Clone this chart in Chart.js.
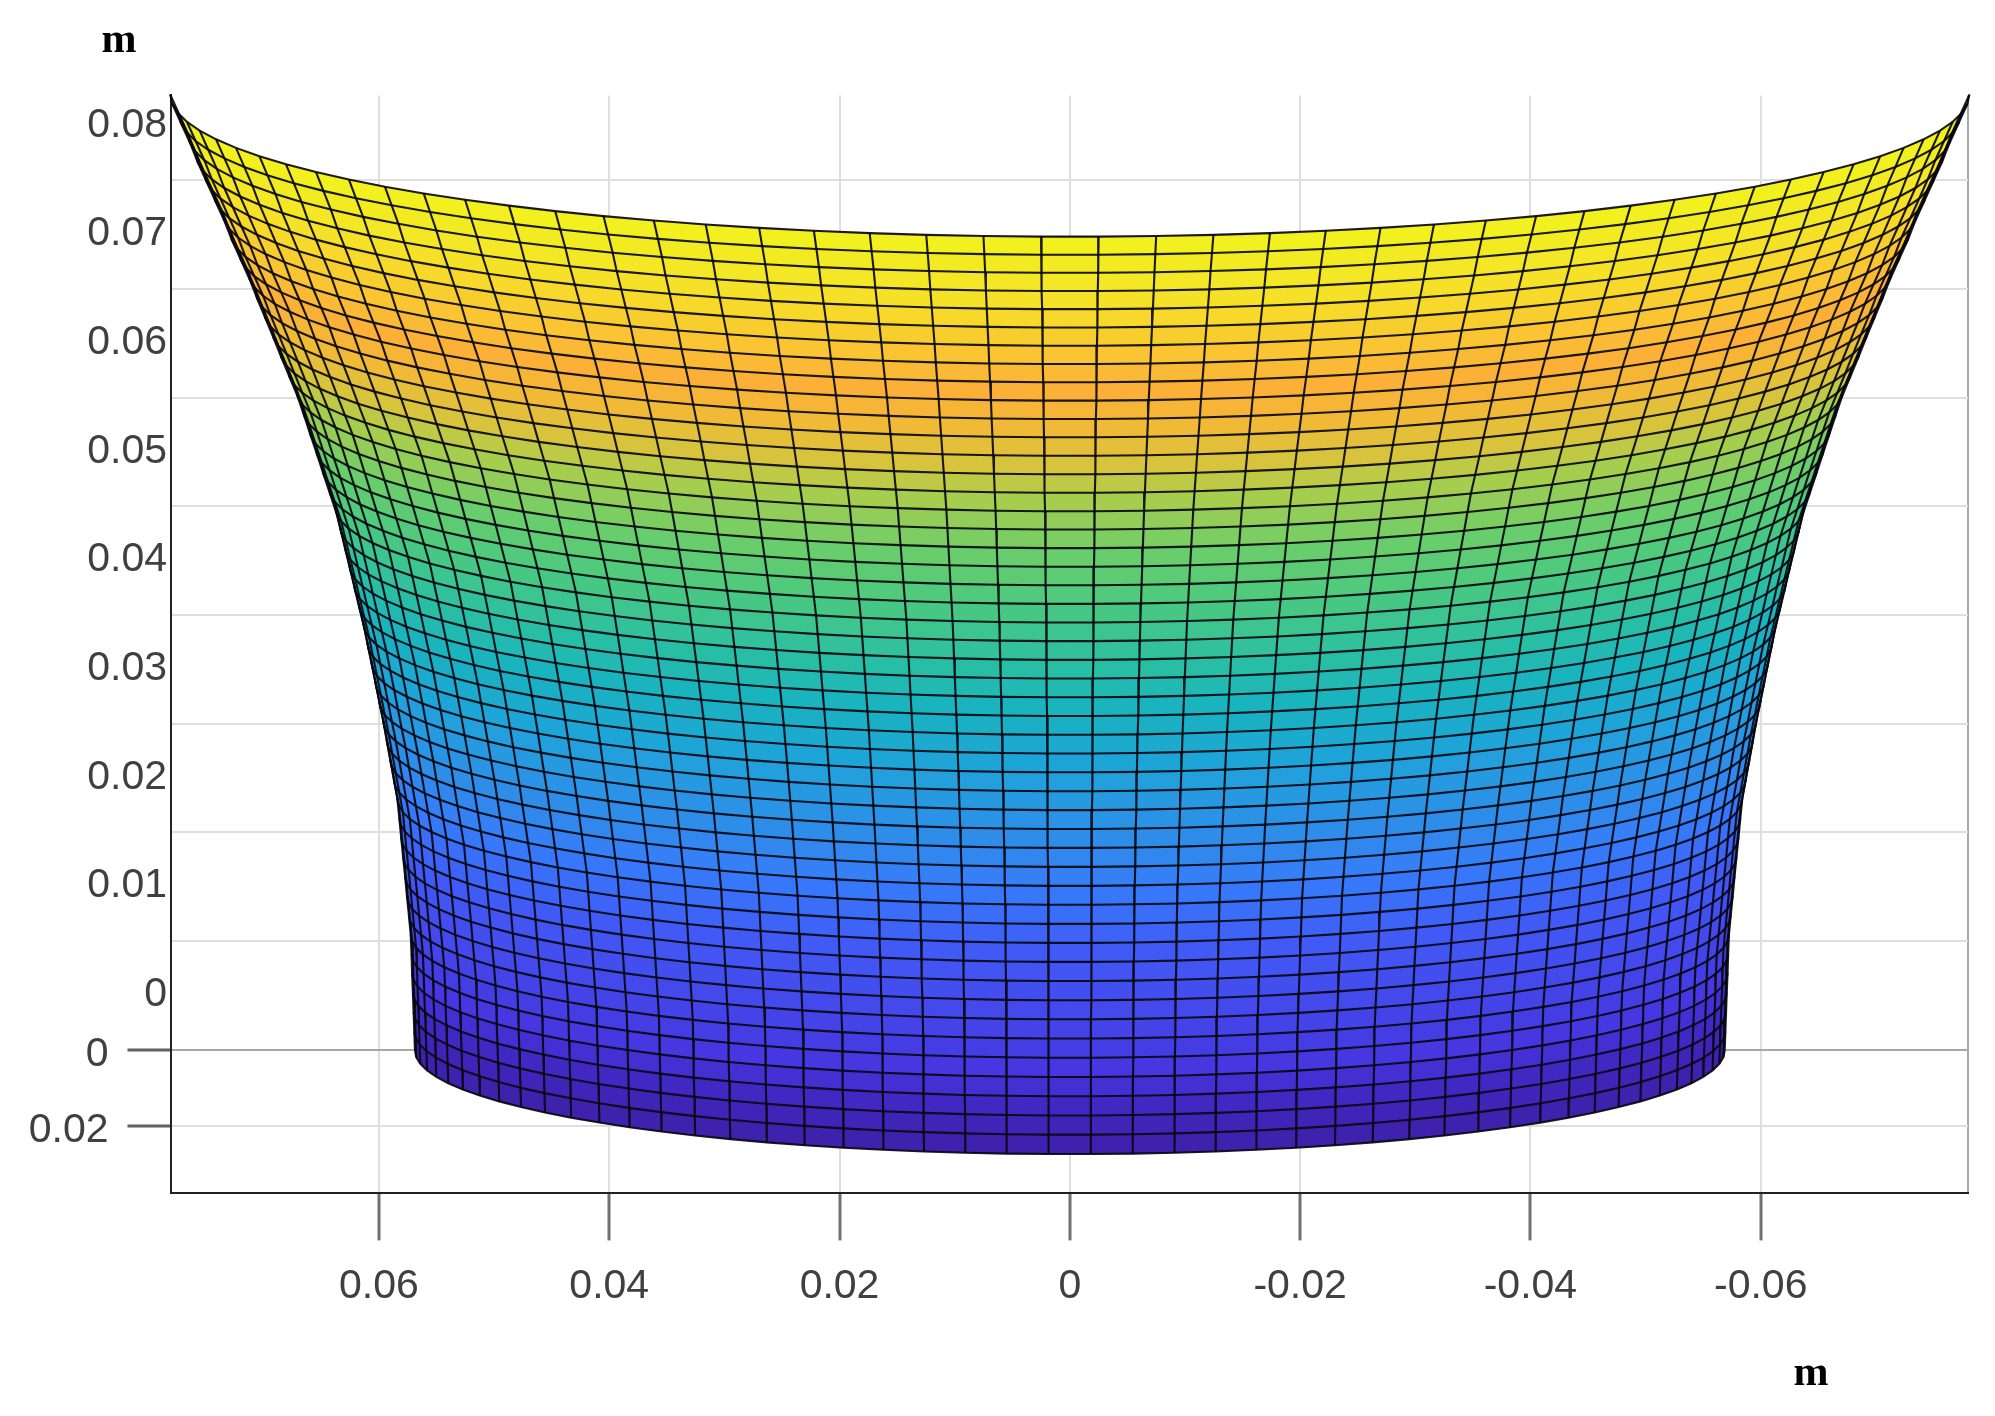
<!DOCTYPE html>
<html>
<head>
<meta charset="utf-8">
<title>Surface mesh</title>
<script src="https://cdn.jsdelivr.net/npm/chart.js@4"></script>
<style>
html, body { margin: 0; padding: 0; background: #fff; }
canvas { display: block; }
</style>
</head>
<body>
<canvas id="myChart" width="1995" height="1416"></canvas>
<script>
// tick values and labels
var xTicks = [0.06, 0.04, 0.02, 0, -0.02, -0.04, -0.06];
var zTicks = [0, 0.01, 0.02, 0.03, 0.04, 0.05, 0.06, 0.07, 0.08];
var zTickLabels = ['0', '0.01', '0.02', '0.03', '0.04', '0.05', '0.06', '0.07', '0.08'];
var depthTicks = [0, -0.00703];
var depthTickLabels = ['0', '0.02'];

// mesh rows, top row first: height at x = 0 and half width
var rowCentre = [
    0.07482, 0.07315, 0.07149, 0.06981, 0.06814, 0.06646, 0.06478, 0.06309, 0.06142, 0.05972,
    0.05803, 0.05635, 0.05465, 0.05295, 0.05125, 0.04955, 0.04786, 0.04615, 0.04444, 0.04273,
    0.04102, 0.03931, 0.03759, 0.03587, 0.03415, 0.03242, 0.03070, 0.02897, 0.02725, 0.02552,
    0.02378, 0.02204, 0.02030, 0.01856, 0.01682, 0.01507, 0.01333, 0.01157, 0.00982, 0.00807,
    0.00631, 0.00454, 0.00279, 0.00102, -0.00075, -0.00252, -0.00429, -0.00606, -0.00783, -0.00961
];
var rowRadius = [
    0.07812, 0.07735, 0.07658, 0.07591, 0.07514, 0.07437, 0.07359, 0.07293, 0.07216, 0.07138,
    0.07072, 0.07001, 0.06930, 0.06861, 0.06790, 0.06719, 0.06662, 0.06606, 0.06549, 0.06493,
    0.06436, 0.06380, 0.06339, 0.06298, 0.06257, 0.06217, 0.06176, 0.06135, 0.06101, 0.06066,
    0.06032, 0.05998, 0.05963, 0.05933, 0.05902, 0.05871, 0.05840, 0.05823, 0.05807, 0.05790,
    0.05773, 0.05757, 0.05740, 0.05724, 0.05717, 0.05712, 0.05705, 0.05699, 0.05693, 0.05687
];

// mesh columns, from the middle out to one side (the other side mirrors it)
var columnSide = [
    0.0320, 0.0960, 0.1596, 0.2225, 0.2845, 0.3454, 0.4048, 0.4625, 0.5184, 0.5721, 0.6235, 0.6723,
    0.7183, 0.7614, 0.8014, 0.8380, 0.8713, 0.9009, 0.9269, 0.9491, 0.9673, 0.9815, 0.9918, 0.9979, 1
];
var columnFront = [
    0.9995, 0.9954, 0.9872, 0.9749, 0.9587, 0.9385, 0.9144, 0.8866, 0.8552, 0.8202, 0.7818, 0.7404,
    0.6957, 0.6482, 0.5981, 0.5456, 0.4907, 0.4339, 0.3753, 0.3150, 0.2536, 0.1914, 0.1279, 0.0641, 0
];

// how far the rim rises towards the edge of the view
var viewTilt = 0.1674;

// band colours: row index, r, g, b
var bandStops = [
    [0, 242, 240, 30], [3, 245, 226, 40], [6, 250, 196, 50], [8, 252, 176, 55], [10, 240, 186, 55],
    [12, 215, 196, 60], [14, 165, 205, 78], [17, 104, 205, 108], [20, 70, 200, 132], [23, 40, 190, 165],
    [25, 26, 180, 190], [28, 30, 165, 215], [33, 50, 135, 238], [35, 55, 120, 250], [38, 65, 90, 245],
    [44, 70, 55, 225], [46, 65, 40, 195], [49, 60, 30, 160]
];

var gridLight = '#dedede';
var gridDark = '#a8a8a8';
var labelColour = '#404040';
var meshColour = 'rgba(8, 8, 16, 0.92)';

function bandColour(k) {
    for (var i = 0; i < bandStops.length - 1; i++) {
        var a = bandStops[i], b = bandStops[i + 1];
        if (k <= b[0]) {
            var t = (k - a[0]) / (b[0] - a[0]);
            return 'rgb(' + [1, 2, 3].map(function (c) {
                return Math.round(a[c] + (b[c] - a[c]) * t);
            }).join(',') + ')';
        }
    }
    return 'rgb(60,30,160)';
}

// columns left to right
var columnX = columnSide.slice().reverse().concat(columnSide.map(function (v) { return -v; }));
var columnY = columnFront.slice().reverse().concat(columnFront);

function meshPoint(row, col) {
    return {
        x: rowRadius[row] * columnX[col],
        y: rowCentre[row] + viewTilt * rowRadius[row] * (1 - columnY[col])
    };
}

var datasets = [];

// colour bands first, each one filled down to the next row
rowCentre.forEach(function (c, row) {
    datasets.push({
        data: columnX.map(function (v, col) { return meshPoint(row, col); }),
        showLine: true,
        pointRadius: 0,
        borderWidth: 0,
        borderColor: 'transparent',
        backgroundColor: bandColour(row),
        fill: row < rowCentre.length - 1 ? '+1' : false,
        clip: false,
        order: 2
    });
});

// then the mesh lines on top
rowCentre.forEach(function (c, row) {
    datasets.push({
        data: columnX.map(function (v, col) { return meshPoint(row, col); }),
        showLine: true,
        pointRadius: 0,
        borderColor: meshColour,
        borderWidth: 2.1,
        fill: false,
        clip: false,
        order: 1
    });
});

columnX.forEach(function (v, col) {
    datasets.push({
        data: rowCentre.map(function (c, row) { return meshPoint(row, col); }),
        showLine: true,
        pointRadius: 0,
        borderColor: meshColour,
        borderWidth: 2.1,
        fill: false,
        clip: false,
        order: 0
    });
});

// the two "m" unit labels sit apart from the axes
var unitLabels = {
    id: 'unitLabels',
    afterDraw: function (chart) {
        var ctx = chart.ctx;
        ctx.save();
        ctx.fillStyle = '#000';
        ctx.font = 'bold 42px "Liberation Serif"';
        ctx.textAlign = 'center';
        ctx.textBaseline = 'alphabetic';
        ctx.fillText('m', 119, 52);
        ctx.fillText('m', 1811, 1385);
        ctx.restore();
    }
};

var tickFont = { family: '"Liberation Sans"', size: 41 };

var MegaChart = new Chart(document.getElementById('myChart'), {
    type: 'scatter',
    data: { datasets: datasets },
    plugins: [unitLabels],
    options: {
        responsive: false,
        animation: false,
        events: [],
        layout: { padding: { top: 95.4, right: 27, bottom: 102.6, left: 0 } },
        plugins: {
            legend: { display: false },
            tooltip: { enabled: false },
            title: { display: false }
        },
        scales: {
            x: {
                type: 'linear',
                reverse: true,
                min: -0.0780,
                max: 0.0781,
                afterBuildTicks: function (scale) {
                    // last one is the grey edge on the right of the box
                    scale.ticks = xTicks.concat([-0.0780]).map(function (v) { return { value: v }; });
                },
                afterFit: function (scale) { scale.height = 120; },
                border: { display: true, color: '#222', width: 2 },
                grid: {
                    color: function (c) { return c.tick.value === -0.0780 ? gridDark : gridLight; },
                    lineWidth: 2,
                    tickLength: 47,
                    tickWidth: 3,
                    tickColor: function (c) { return c.tick.value === -0.0780 ? 'transparent' : '#707070'; }
                },
                ticks: {
                    autoSkip: false,
                    maxRotation: 0,
                    padding: 22,
                    color: labelColour,
                    font: tickFont,
                    callback: function (v) { return v === -0.0780 ? '' : String(v); }
                }
            },
            y: {
                type: 'linear',
                weight: 1,
                min: -0.01323,
                max: 0.08782,
                afterBuildTicks: function (scale) {
                    scale.ticks = zTicks.concat(depthTicks.slice(1)).map(function (v) { return { value: v }; });
                },
                afterFit: function (scale) { scale.width = 170.5; },
                border: { display: true, color: '#222', width: 2 },
                grid: {
                    color: function (c) { return c.tick.value === 0 ? gridDark : gridLight; },
                    lineWidth: 2,
                    tickLength: 43,
                    tickWidth: 3,
                    tickColor: function (c) {
                        return depthTicks.indexOf(c.tick.value) >= 0 ? '#606060' : 'transparent';
                    }
                },
                ticks: {
                    autoSkip: false,
                    padding: 19,
                    labelOffset: 5,
                    color: labelColour,
                    font: tickFont,
                    callback: function (v) {
                        var i = depthTicks.indexOf(v);
                        return i >= 0 ? depthTickLabels[i] : '';
                    }
                }
            },
            // height labels sit above their grid lines in the 3D view
            zLabels: {
                type: 'linear',
                axis: 'y',
                position: { x: 0.0784 },
                min: -0.01323,
                max: 0.08782,
                afterBuildTicks: function (scale) {
                    scale.ticks = zTicks.map(function (v) { return { value: v + 0.00505 }; });
                },
                border: { display: false },
                grid: { display: false },
                ticks: {
                    autoSkip: false,
                    color: labelColour,
                    font: tickFont,
                    callback: function (v, i) { return zTickLabels[i]; }
                }
            }
        }
    }
});
</script>
</body>
</html>
